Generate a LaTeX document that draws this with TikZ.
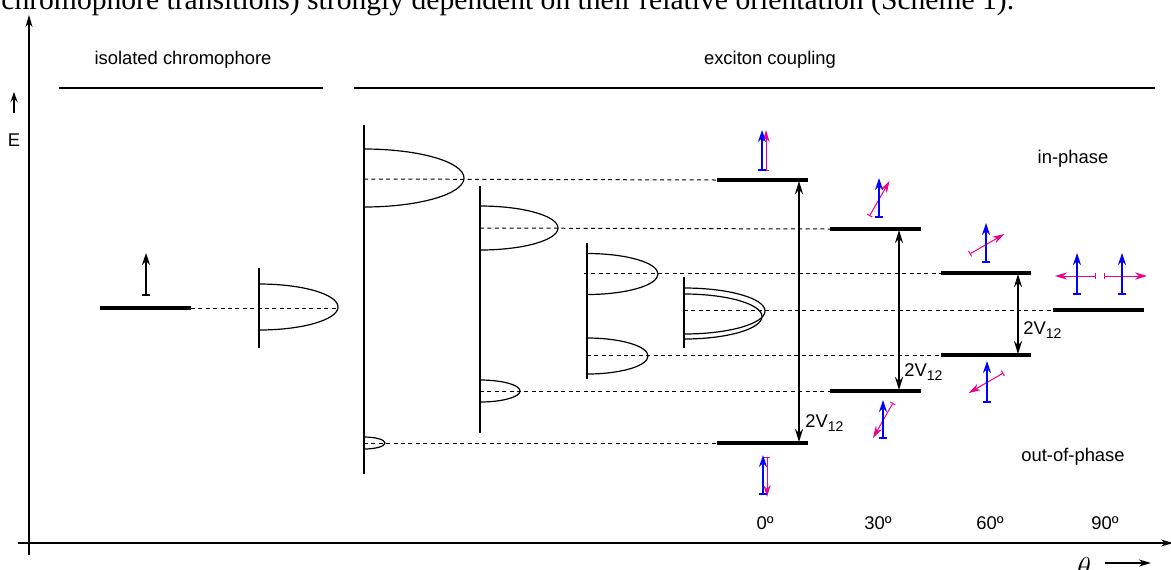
\documentclass[tikz,border=0pt]{standalone}
\usepackage{fontspec}
\setmainfont{Liberation Sans}
\newfontfamily\bodyserif{Liberation Serif}
\usetikzlibrary{arrows.meta}

\begin{document}
\begin{tikzpicture}[x=0.5pt, y=-0.5pt,
  level/.style={line width=2pt},
  band/.style={line width=1pt},
  lobe/.style={line width=0.6pt},
  guide/.style={line width=0.5pt, dash pattern=on 2pt off 1.7pt},
  lbl/.style={font=\fontsize{9.2}{11}\selectfont, inner sep=0pt},
  split/.style={line width=1pt, {Stealth[length=6.5pt,width=4pt]}-{Stealth[length=6.5pt,width=4pt]}},
  tdm/.style={line width=1pt, {Bar[width=4pt]}-{Stealth[length=6pt,width=4pt]}},
  tdmb/.style={tdm, blue},
  tdmm/.style={line width=0.5pt, magenta, {Bar[width=3pt]}-{Stealth[length=6pt,width=3.6pt]}},
]
  \useasboundingbox (0,0) rectangle (1171,569);
  \begin{scope}
  \clip (0,0) rectangle (1171,569);
  \node[anchor=base west, inner sep=0pt] (cut) at (1,9)
    {\bodyserif\fontsize{14.8}{16}\selectfont chromophore transitions) strongly dependent on their relative orientation (Scheme 1).};
  \node[anchor=base, inner sep=0pt] (theta) at (1084,577)
    {\fontsize{14.8}{16}\selectfont$\theta$};
  \end{scope}

  % axes
  \coordinate (O) at (29,543);
  \draw[line width=0.6pt, -{Stealth[length=6pt,width=3.5pt]}] (29,555) -- (29,15);
  \draw[line width=0.6pt, -{Stealth[length=6pt,width=3.5pt]}] (18,543) -- (1173,543);
  \draw[line width=1pt, -{Stealth[length=5pt,width=3.5pt]}] (14,113) -- (14,92);
  \node[lbl] (E) at (14,140) {E};
  \draw[line width=1pt, -{Stealth[length=6pt,width=3.5pt]}] (1105,563) -- (1151,563);

  % headings
  \node[lbl] (iso) at (183,60) {isolated chromophore};
  \node[lbl] (exc) at (770,60) {exciton coupling};
  \draw[line width=0.6pt] (59,88) -- (323,88);
  \draw[line width=0.6pt] (354,88) -- (1155,88);
  \node[lbl] (inph) at (1073,159) {in-phase};
  \node[lbl] (outph) at (1073,457) {out-of-phase};

  % isolated chromophore
  \draw[level] (100,308) -- (191,308);
  \draw[guide] (191,308) -- (338,308);
  \draw[line width=0.6pt] (259,268) -- (259,348);
  \draw[lobe] (259,284) arc[start angle=-90, end angle=90, x radius=79, y radius=23];
  \draw[tdm] (146,296) -- (146,253);

  % bands
  \draw[band] (364,125) -- (364,474);
  \draw[lobe] (364,149) arc[start angle=-90, end angle=90, x radius=100, y radius=29];
  \draw[lobe] (364,437) arc[start angle=-90, end angle=90, x radius=21, y radius=6];
  \draw[band] (480,186) -- (480,433);
  \draw[lobe] (480,206) arc[start angle=-90, end angle=90, x radius=78, y radius=22];
  \draw[lobe] (480,380) arc[start angle=-90, end angle=90, x radius=40, y radius=11];
  \draw[band] (587,243) -- (587,379);
  \draw[lobe] (587,253.5) arc[start angle=-90, end angle=90, x radius=71, y radius=20.5];
  \draw[lobe] (587,338) arc[start angle=-90, end angle=90, x radius=61, y radius=18];
  \draw[band] (684,277) -- (684,348);
  \draw[lobe] (684,288) arc[start angle=-90, end angle=90, x radius=81, y radius=23];
  \draw[lobe] (684,294) arc[start angle=-90, end angle=90, x radius=78, y radius=22.5];

  % levels
  \coordinate (up0) at (717,180);  \coordinate (lo0) at (717,443);
  \coordinate (up30) at (830,229); \coordinate (lo30) at (830,391);
  \coordinate (up60) at (941,273); \coordinate (lo60) at (941,355);
  \coordinate (mid90) at (1053,310);
  \draw[guide] (364,179) -- (up0);
  \draw[guide] (364,443) -- (lo0);
  \draw[guide] (480,228) -- (up30);
  \draw[guide] (480,391) -- (lo30);
  \draw[guide] (584,273) -- (up60);
  \draw[guide] (587,355) -- (lo60);
  \draw[guide] (684,310) -- (mid90);
  \draw[level] (up0) -- ++(91,0);
  \draw[level] (lo0) -- ++(91,0);
  \draw[level] (up30) -- ++(91,0);
  \draw[level] (lo30) -- ++(91,0);
  \draw[level] (up60) -- ++(90,0);
  \draw[level] (lo60) -- ++(90,0);
  \draw[level] (mid90) -- ++(91,0);

  % splittings
  \coordinate (s0a) at (799,181);  \coordinate (s0b) at (799,442);
  \coordinate (s30a) at (899,230); \coordinate (s30b) at (899,390);
  \coordinate (s60a) at (1018,274); \coordinate (s60b) at (1018,354);
  \draw[split] (s0a) -- (s0b);
  \draw[split] (s30a) -- (s30b);
  \draw[split] (s60a) -- (s60b);
  \node[lbl, anchor=west] (v0) at (805,423) {2V\raisebox{-0.35ex}{\fontsize{7}{8}\selectfont 12}};
  \node[lbl, anchor=west] (v30) at (904,372) {2V\raisebox{-0.35ex}{\fontsize{7}{8}\selectfont 12}};
  \node[lbl, anchor=west] (v60) at (1023,330) {2V\raisebox{-0.35ex}{\fontsize{7}{8}\selectfont 12}};

  % dipoles
  \draw[tdmm] (766,171) -- (766,130);
  \draw[tdmb] (762,171) -- (762,130);
  \draw[tdmm] (767,457) -- (767,497);
  \draw[tdmb] (763,495) -- (763,455);
  \draw[tdmm] (869.5,216) -- (889.5,181);
  \draw[tdmb] (879,218) -- (879,178);
  \draw[tdmm] (893,403) -- (873,438);
  \draw[tdmb] (883,439) -- (883,400);
  \draw[tdmm] (969.7,254) -- (1004.3,234);
  \draw[tdmb] (986,263) -- (986,223);
  \draw[tdmm] (1003.3,373) -- (968.7,393);
  \draw[tdmb] (987,403) -- (987,361);
  \draw[tdmm] (1096,276) -- (1055,276);
  \draw[tdmb] (1077,295) -- (1077,253);
  \draw[tdmm] (1104,276) -- (1147,276);
  \draw[tdmb] (1122,295) -- (1122,253);

  % angles
  \node[lbl] (a0) at (765,523) {0º};
  \node[lbl] (a30) at (878,523) {30º};
  \node[lbl] (a60) at (990,523) {60º};
  \node[lbl] (a90) at (1105,523) {90º};
\end{tikzpicture}
\end{document}
